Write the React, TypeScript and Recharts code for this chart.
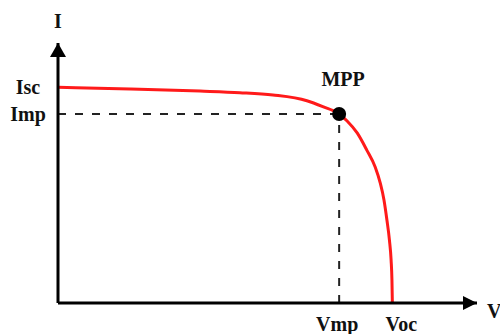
import React from 'react';
import { LineChart, Line, XAxis, YAxis, ReferenceLine, ReferenceDot } from 'recharts';

// I-V curve of a solar cell, units are arbitrary (0-100 on both axes)
const voltage = [0, 17.2, 33.9, 43.4, 51.3, 59.4, 63.2, 67.1, 69.0, 71.4, 73.7, 75.7, 76.9, 77.8, 78.5, 79.1, 79.5, 79.7, 79.8];
const current = [83.0, 82.3, 81.5, 80.9, 80.0, 77.8, 75.5, 72.7, 70.0, 65.4, 58.8, 52.3, 46.2, 39.6, 31.9, 24.2, 16.5, 8.8, 0];

const Vmp = 67.1;
const Voc = 79.8;
const Imp = 72.7;
const Isc = 83.0;

const xTickLabels: Record<number, string> = { [Vmp]: 'Vmp', [Voc]: 'Voc' };
const yTickLabels: Record<number, string> = { [Imp]: 'Imp', [Isc]: 'Isc' };

const data = voltage.map((v, i) => ({ v, i: current[i] }));

const FONT = '"Liberation Serif", "Times New Roman", serif';
const textStyle = { fontFamily: FONT, fontWeight: 700, fontSize: 20, fill: '#111' };

const XTick: React.FC<any> = ({ x, y, payload }) => {
  const shift = payload.value === Voc ? 9 : -2;
  return (
    <text x={x + shift} y={y + 28} textAnchor="middle" {...textStyle}>
      {xTickLabels[payload.value]}
    </text>
  );
};

const YTick: React.FC<any> = ({ x, y, payload }) => (
  <text x={x - 30} y={y + 7} textAnchor="middle" {...textStyle}>
    {yTickLabels[payload.value]}
  </text>
);

const RightArrow: React.FC<any> = ({ cx, cy }) => (
  <g>
    <polygon points={`${cx},${cy} ${cx - 14},${cy - 7} ${cx - 14},${cy + 7}`} fill="#000" />
    <text x={cx + 10} y={cy + 15} {...textStyle}>V</text>
  </g>
);

const UpArrow: React.FC<any> = ({ cx, cy }) => (
  <g>
    <polygon points={`${cx},${cy} ${cx - 8},${cy + 14} ${cx + 8},${cy + 14}`} fill="#000" />
    <text x={cx} y={cy - 15} textAnchor="middle" {...textStyle}>I</text>
  </g>
);

const MppDot: React.FC<any> = ({ cx, cy }) => (
  <g>
    <circle cx={cx} cy={cy} r={7} fill="#000" />
    <text x={cx + 4} y={cy - 28} textAnchor="middle" {...textStyle}>MPP</text>
  </g>
);

export default function App() {
  return (
    <div style={{ position: 'absolute', left: 0, top: 0, background: '#fff' }}>
      <LineChart width={500} height={334} data={data} margin={{ top: 43, right: 23, left: 0, bottom: 0 }}>
        <XAxis
          type="number"
          dataKey="v"
          domain={[0, 100]}
          ticks={[Vmp, Voc]}
          tick={<XTick />}
          tickLine={false}
          tickSize={0}
          tickMargin={0}
          height={31}
          axisLine={{ stroke: '#000', strokeWidth: 3 }}
          interval={0}
        />
        <YAxis
          type="number"
          domain={[0, 100]}
          ticks={[Imp, Isc]}
          tick={<YTick />}
          tickLine={false}
          tickSize={0}
          tickMargin={0}
          width={58}
          axisLine={{ stroke: '#000', strokeWidth: 3 }}
          interval={0}
        />
        <ReferenceLine segment={[{ x: 0, y: Imp }, { x: Vmp, y: Imp }]} stroke="#222" strokeWidth={2} strokeDasharray="8 9" />
        <ReferenceLine segment={[{ x: Vmp, y: 0 }, { x: Vmp, y: Imp }]} stroke="#222" strokeWidth={2} strokeDasharray="8 9" />
        <Line
          type="monotone"
          dataKey="i"
          stroke="#ff1a1a"
          strokeWidth={3}
          dot={false}
          activeDot={false}
          isAnimationActive={false}
        />
        <ReferenceDot x={Vmp} y={Imp} shape={<MppDot />} ifOverflow="visible" />
        <ReferenceDot x={100} y={0} shape={<RightArrow />} ifOverflow="visible" />
        <ReferenceDot x={0} y={100} shape={<UpArrow />} ifOverflow="visible" />
      </LineChart>
    </div>
  );
}
